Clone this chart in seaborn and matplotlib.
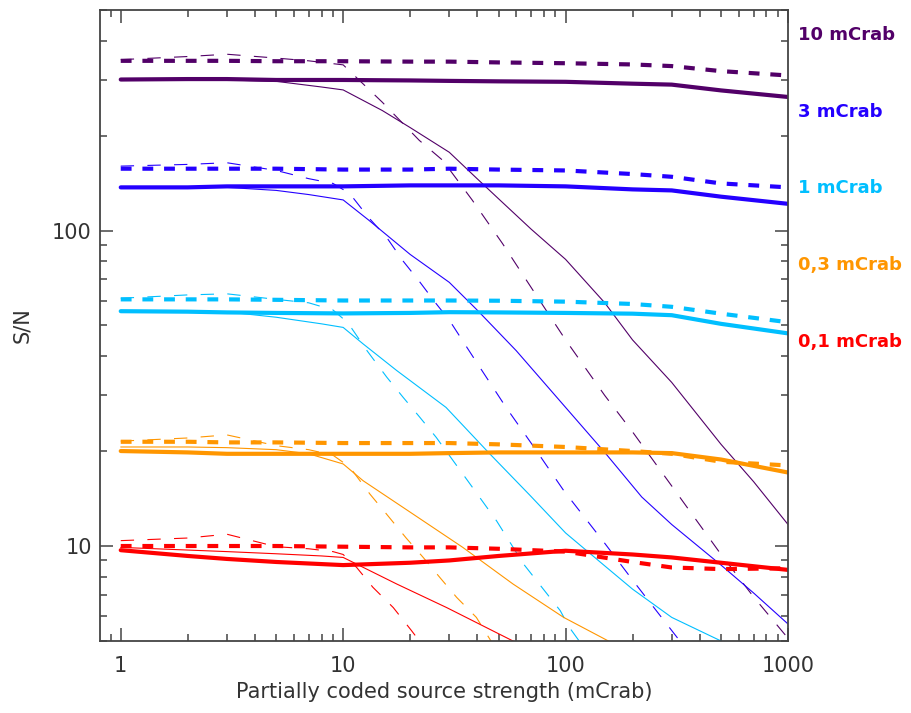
import numpy as np
import pandas as pd
import seaborn as sns
import matplotlib.pyplot as plt

# source strengths (one colour each)
SOURCES = ["10 mCrab", "3 mCrab", "1 mCrab", "0,3 mCrab", "0,1 mCrab"]
COLORS = ["#520068", "#2400ff", "#00bfff", "#ff9600", "#ff0000"]

# thick lines share one x grid
X_THICK = [1, 2, 3, 5, 10, 20, 30, 50, 100, 200, 300, 500, 1000]

P_SOLID = [301, 302, 302, 300, 300, 299, 298, 297, 296, 292, 290, 278, 265]
P_DASH = [345, 345, 345, 344, 344, 343, 343, 341, 339, 336, 332, 320, 310]
B_SOLID = [137, 137, 138, 138, 138, 139, 139, 139, 138, 135, 134, 128, 121.5]
B_DASH = [157, 157, 157, 157, 156, 156, 157, 156, 155, 151, 148, 141, 137]
C_SOLID = [55.5, 55.3, 55.0, 54.8, 54.6, 54.8, 55.1, 55.0, 54.8, 54.5, 53.9, 50.6, 47.2]
C_DASH = [60.5, 60.5, 60.5, 60.3, 60.0, 60.0, 60.0, 59.9, 59.5, 58.5, 57.3, 54.5, 51.2]
O_SOLID = [20.0, 19.8, 19.6, 19.6, 19.6, 19.6, 19.7, 19.8, 19.8, 19.8, 19.7, 18.8, 17.1]
O_DASH = [21.4, 21.4, 21.3, 21.3, 21.2, 21.2, 21.2, 21.0, 20.6, 20.0, 19.6, 18.5, 18.0]
R_SOLID = [9.7, 9.3, 9.1, 8.9, 8.7, 8.85, 9.0, 9.3, 9.66, 9.4, 9.2, 8.85, 8.4]
R_DASH = [10.0, 10.0, 10.0, 10.0, 9.95, 9.9, 9.9, 9.8, 9.6, 8.9, 8.55, 8.45, 8.5]

# thin lines (fall off above ~10 mCrab)
P_THIN_X = [1, 3, 5, 8, 10, 15, 20, 30, 40, 50, 70, 100, 150, 200, 300, 500, 700, 1000]
P_THIN_Y = [301, 300, 297, 285, 279, 240, 212, 177, 146, 126, 101, 81, 59, 45, 33, 21, 16, 11.7]
P_THIND_X = [1, 2, 3, 5, 7, 10, 15, 22, 28, 38, 52, 70, 100, 150, 200, 300, 500, 700, 1000]
P_THIND_Y = [348, 356, 362, 352, 345, 335, 255, 193, 167, 125, 91, 66, 45, 30, 23, 15.5, 9.4, 6.9, 5.1]

B_THIN_X = [1, 3, 5, 7, 10, 13, 20, 30, 40, 60, 100, 150, 220, 300, 500, 700, 1000]
B_THIN_Y = [137, 137, 134, 130, 125, 108, 84, 68.5, 56, 41.6, 27.5, 19.8, 14.3, 11.7, 8.7, 7.1, 5.66]
B_THIND_X = [1, 2, 3, 5, 7, 9, 10.7, 13, 15.7, 18.6, 22, 26, 30, 40, 54, 72, 98, 150, 200, 330, 350]
B_THIND_Y = [160, 162, 164, 155, 146, 141, 131, 110, 95, 80, 69, 59, 52, 38, 27.5, 20.6, 15.0, 10.2, 7.8, 4.95, 4.7]

C_THIN_X = [1, 3, 5, 8, 10, 12.3, 17.4, 29, 45.6, 69, 100, 150, 200, 300, 500, 600]
C_THIN_Y = [55.5, 55.2, 53.1, 50.6, 49.3, 43.7, 36, 27.5, 19.6, 14.5, 11.0, 8.65, 7.3, 5.94, 5.0, 4.7]
C_THIND_X = [1, 2, 3, 5, 7, 9, 10.5, 12.8, 15.7, 18.6, 22.1, 26.2, 36.3, 49, 64.7, 94.6, 104, 120]
C_THIND_Y = [61, 62.5, 63, 60.5, 59, 56, 51, 41.6, 34.3, 29.6, 25.6, 22.1, 16.1, 12.0, 8.77, 6.24, 5.52, 4.8]

O_THIN_X = [1, 2, 3, 5, 7, 10, 12.3, 20.7, 34.5, 58, 98, 160]
O_THIN_Y = [20.6, 20.6, 20.5, 20.2, 19.6, 18.2, 16.1, 12.6, 9.9, 7.58, 5.94, 4.95]
O_THIND_X = [1, 2, 3, 5, 7, 9, 10.7, 13.2, 15.7, 19.2, 22.9, 27.2, 32.4, 39.7, 47]
O_THIND_Y = [21.5, 22.0, 22.5, 20.8, 20.2, 19.4, 17.8, 14.6, 12.6, 10.6, 9.2, 7.95, 6.87, 5.94, 4.9]

R_THIN_X = [1, 3, 5, 8, 10, 17.4, 29.2, 58, 65]
R_THIN_Y = [9.9, 9.6, 9.45, 9.3, 9.2, 7.58, 6.38, 5.0, 4.8]
R_THIND_X = [1, 2, 3, 5, 7, 9, 10, 11.5, 13.6, 16.8, 20.3, 23]
R_THIND_Y = [10.4, 10.6, 10.9, 9.95, 9.8, 9.6, 9.4, 8.55, 7.4, 6.38, 5.39, 4.8]


def to_frame(source, line, xs, ys):
    return pd.DataFrame({"source": source, "line": line, "x": xs, "y": ys})


parts = []
thick = [(P_SOLID, P_DASH), (B_SOLID, B_DASH), (C_SOLID, C_DASH),
         (O_SOLID, O_DASH), (R_SOLID, R_DASH)]
thin = [(P_THIN_X, P_THIN_Y, P_THIND_X, P_THIND_Y),
        (B_THIN_X, B_THIN_Y, B_THIND_X, B_THIND_Y),
        (C_THIN_X, C_THIN_Y, C_THIND_X, C_THIND_Y),
        (O_THIN_X, O_THIN_Y, O_THIND_X, O_THIND_Y),
        (R_THIN_X, R_THIN_Y, R_THIND_X, R_THIND_Y)]
for src, (s, d), (tx, ty, dx, dy) in zip(SOURCES, thick, thin):
    parts.append(to_frame(src, "thick solid", X_THICK, s))
    parts.append(to_frame(src, "thick dashed", X_THICK, d))
    parts.append(to_frame(src, "thin solid", tx, ty))
    parts.append(to_frame(src, "thin dashed", dx, dy))
df = pd.concat(parts, ignore_index=True)

sns.set_style("ticks")
plt.rcParams['font.family'] = ['DejaVu Sans']

fig = plt.figure(figsize=(9.11, 7.13), dpi=100)
ax = fig.add_axes([0.1098, 0.101, 0.7552, 0.885])

sns.lineplot(
    data=df, x="x", y="y", hue="source", style="line", size="line",
    hue_order=SOURCES, palette=dict(zip(SOURCES, COLORS)),
    dashes={"thick solid": "", "thick dashed": (2.6, 2.6),
            "thin solid": "", "thin dashed": (12, 12)},
    sizes={"thick solid": 3.0, "thick dashed": 3.0,
           "thin solid": 0.8, "thin dashed": 0.8},
    estimator=None, errorbar=None, sort=False, legend=False, ax=ax,
)

ax.set_xscale("log")
ax.set_yscale("log")
ax.set_xlim(0.807, 1000)
ax.set_ylim(5, 500)
ax.set_xticks([1, 10, 100, 1000], labels=["1", "10", "100", "1000"])
ax.set_yticks([10, 100], labels=["10", "100"])

ax.tick_params(which="both", direction="in", top=True, right=True,
               color="#444444", width=1.1, labelcolor="#333333", labelsize=15)
ax.tick_params(axis="x", which="both", pad=11)
ax.tick_params(axis="y", which="both", pad=6)
ax.tick_params(which="major", length=9.5)
ax.tick_params(which="minor", length=5)
for sp in ax.spines.values():
    sp.set_color("#444444")
    sp.set_linewidth(1.3)

ax.set_xlabel("Partially coded source strength (mCrab)", fontsize=15,
              color="#333333", labelpad=4)
ax.set_ylabel("S/N", fontsize=15, color="#333333", labelpad=14)

label_y = [0.960, 0.838, 0.718, 0.596, 0.474]
for txt, col, yy in zip(SOURCES, COLORS, label_y):
    ax.text(1.0145, yy, txt, transform=ax.transAxes, color=col,
            fontsize=13, fontweight="bold", ha="left", va="center")

fig.savefig("out.png", dpi=100)
